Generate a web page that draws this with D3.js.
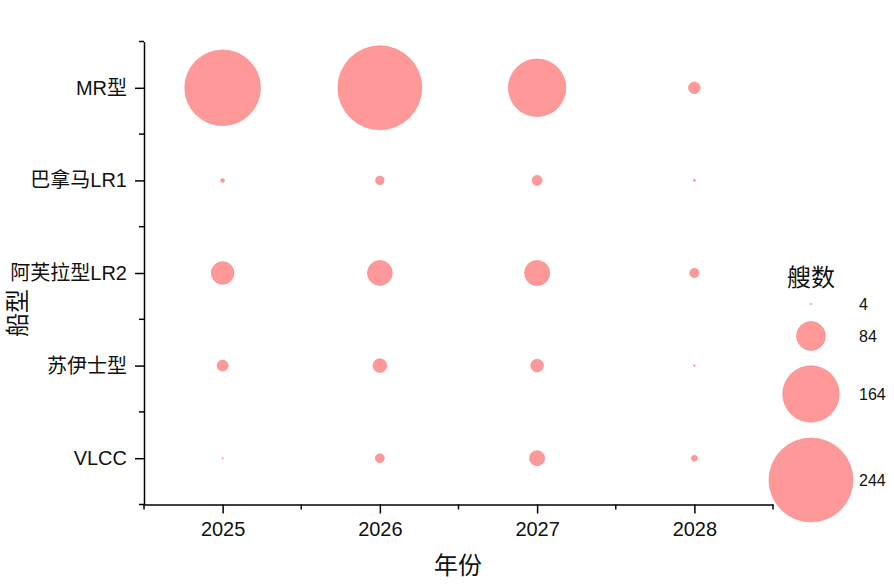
<!DOCTYPE html>
<html><head><meta charset="utf-8">
<script src="https://cdn.jsdelivr.net/npm/d3@7"></script>
<style>
html,body{margin:0;padding:0;background:#fff;}
text{font-family:"Liberation Sans","Noto Sans CJK SC",Arial,sans-serif;fill:#111;}
</style></head>
<body>
<svg id="chart" width="894" height="586"></svg>
<script>
const years = [2025, 2026, 2027, 2028];
const shipTypes = ["MR型", "巴拿马LR1", "阿芙拉型LR2", "苏伊士型", "VLCC"];
const valuesMR = [220, 244, 167, 34];
const valuesLR1 = [11, 25, 29, 6];
const valuesLR2 = [66, 72, 73, 27];
const valuesSuez = [32, 40, 37, 5];
const valuesVLCC = [4, 26, 44, 17];
const legendValues = [4, 84, 164, 244];
const xTitle = "年份", yTitle = "船型", legendTitle = "艘数";

const seriesRows = [valuesMR, valuesLR1, valuesLR2, valuesSuez, valuesVLCC];
const data = [];
shipTypes.forEach((t, i) => years.forEach((yr, j) => data.push({type: t, idx: i, year: yr, v: seriesRows[i][j]})));

const svg = d3.select("#chart");
const mLeft = 144, mRight = 773, mTop = 41.5, mBottom = 504.5;
const x = d3.scaleLinear().domain([2024.5, 2028.5]).range([mLeft, mRight]);
const y = d3.scaleLinear().domain([-0.5, shipTypes.length - 0.5]).range([mTop, mBottom]);
const r = d3.scaleLinear().domain([0, 244]).range([0, 42]);

const fill = "#ff9999", stroke = "#f08585";

// bubbles
svg.append("g").selectAll("circle").data(data).join("circle")
  .attr("cx", d => x(d.year)).attr("cy", d => y(d.idx)).attr("r", d => r(d.v))
  .attr("fill", fill).attr("stroke", stroke).attr("stroke-width", 0.6);

// x axis
const xAxis = svg.append("g").attr("transform", `translate(0,${mBottom})`);
xAxis.call(d3.axisBottom(x).tickValues(years).tickFormat(d3.format("d")).tickSize(9).tickPadding(8).tickSizeOuter(0));
xAxis.append("g").selectAll("line").data([2024.5, 2025.5, 2026.5, 2027.5, 2028.5]).join("line")
  .attr("x1", d => x(d)).attr("x2", d => x(d)).attr("y1", 0).attr("y2", 5).attr("stroke", "#000").attr("stroke-width", 1.5);
xAxis.selectAll(".domain").attr("stroke", "#000").attr("stroke-width", 1.5);
xAxis.selectAll(".tick line").attr("stroke", "#000").attr("stroke-width", 1.5);
xAxis.selectAll(".tick text").attr("font-size", 20).attr("font-family", "Liberation Sans, Arial, sans-serif").attr("fill", "#111");

// y axis
const yAxis = svg.append("g").attr("transform", `translate(${mLeft},0)`);
yAxis.call(d3.axisLeft(y).tickValues(d3.range(shipTypes.length)).tickFormat(i => shipTypes[i]).tickSize(9).tickPadding(8).tickSizeOuter(0));
yAxis.append("g").selectAll("line").data(d3.range(-0.5, shipTypes.length, 1)).join("line")
  .attr("y1", d => y(d)).attr("y2", d => y(d)).attr("x1", 0).attr("x2", -5).attr("stroke", "#000").attr("stroke-width", 1.5);
yAxis.selectAll(".domain").attr("stroke", "#000").attr("stroke-width", 1.5);
yAxis.selectAll(".tick line").attr("stroke", "#000").attr("stroke-width", 1.5);
yAxis.selectAll(".tick text").attr("font-size", 20).attr("font-family", "Liberation Sans, Noto Sans CJK SC, sans-serif").attr("fill", "#111");

// titles
svg.append("text").attr("x", 458).attr("y", 574).attr("text-anchor", "middle").attr("font-size", 24).text(xTitle);
svg.append("text").attr("transform", "translate(26,313) rotate(-90)").attr("text-anchor", "middle").attr("font-size", 24).text(yTitle);

// legend
const lg = svg.append("g");
lg.append("text").attr("x", 811).attr("y", 286).attr("text-anchor", "middle").attr("font-size", 24).text(legendTitle);
const legendY = [304, 336, 394, 480];
lg.selectAll("circle").data(legendValues).join("circle")
  .attr("cx", 811).attr("cy", (d, i) => legendY[i]).attr("r", d => r(d))
  .attr("fill", fill).attr("stroke", stroke).attr("stroke-width", 0.6);
lg.selectAll("text.lv").data(legendValues).join("text").attr("class", "lv")
  .attr("x", 859).attr("y", (d, i) => legendY[i]).attr("dy", "0.35em").attr("font-size", 16).text(d => d);
</script>
</body></html>
